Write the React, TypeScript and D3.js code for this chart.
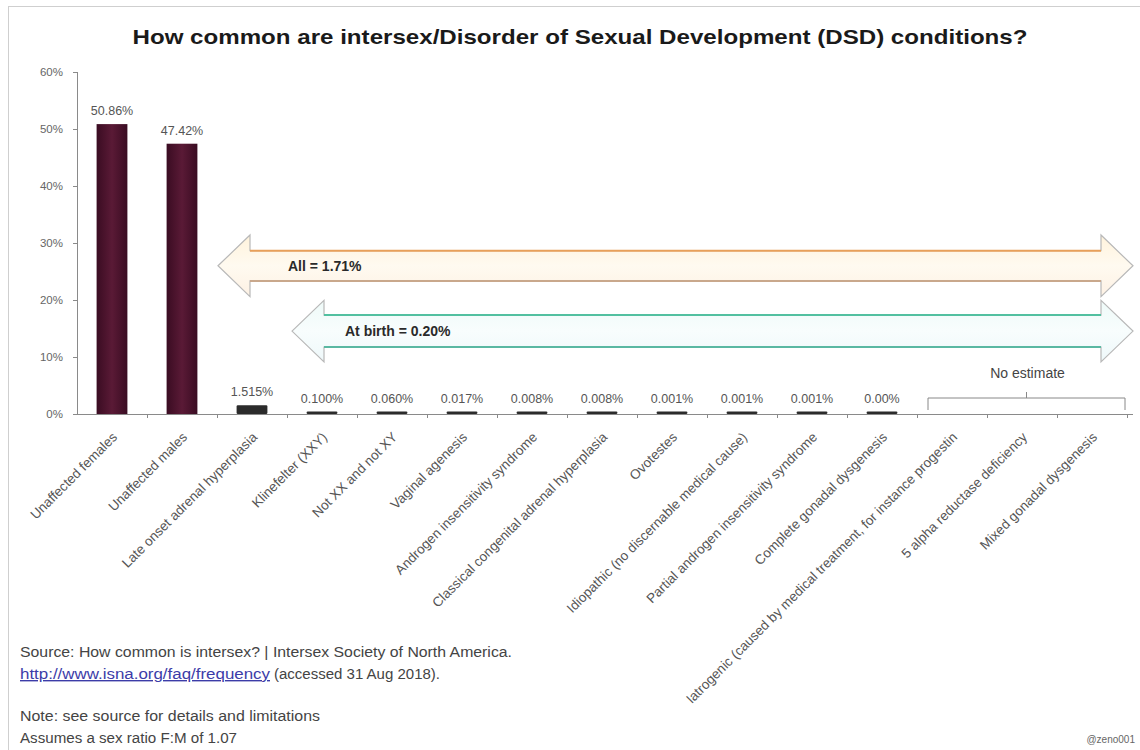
import React from "react";
import * as d3 from "d3";

const categories = [
  "Unaffected females",
  "Unaffected males",
  "Late onset adrenal hyperplasia",
  "Klinefelter (XXY)",
  "Not XX and not XY",
  "Vaginal agenesis",
  "Androgen insensitivity syndrome",
  "Classical congenital adrenal hyperplasia",
  "Ovotestes",
  "Idiopathic (no discernable medical cause)",
  "Partial androgen insensitivity syndrome",
  "Complete gonadal dysgenesis",
  "Iatrogenic (caused by medical treatment, for instance progestin",
  "5 alpha reductase deficiency",
  "Mixed gonadal dysgenesis",
];
const values: (number | null)[] = [
  50.86, 47.42, 1.515, 0.1, 0.06, 0.017, 0.008, 0.008, 0.001, 0.001, 0.001, 0.0004, null, null, null,
];
const valueLabels = [
  "50.86%", "47.42%", "1.515%", "0.100%", "0.060%", "0.017%", "0.008%", "0.008%",
  "0.001%", "0.001%", "0.001%", "0.00%", "", "", "",
];
const yTicks = [0, 10, 20, 30, 40, 50, 60];
const title = "How common are intersex/Disorder of Sexual Development (DSD) conditions?";
const arrows = [
  { label: "All = 1.71%", center: 26, half: 2.65, headHalf: 5.4, startCat: 2, startOffset: 1, kind: "orange" },
  { label: "At birth = 0.20%", center: 14.55, half: 2.8, headHalf: 5.4, startCat: 3, startOffset: 5, kind: "teal" },
];
const noEstimateCats = [12, 13, 14];
const footerLines = [
  "Source: How common is intersex? | Intersex Society of North America.",
  "Note: see source for details and limitations",
  "Assumes a sex ratio F:M of 1.07",
];
const linkText = "http://www.isna.org/faq/frequency";
const accessedText = "(accessed 31 Aug 2018).";
const credit = "@zeno001";

const W = 1140;
const H = 750;
const left = 77;
const right = 1127;
const y0 = 414;
const yTop = 72;
const FONT = "'Liberation Sans', Arial, sans-serif";

export default function App() {
  const x = d3.scaleBand<string>().domain(categories).range([left, right]).padding(0);
  const y = d3.scaleLinear().domain([0, 60]).range([y0, yTop]);
  const bw = x.bandwidth() * 0.44;

  const arrowPath = (a: typeof arrows[0]) => {
    const xs = (x(categories[a.startCat]) as number) + a.startOffset;
    const xe = right + 6;
    const head = 32;
    const yc = y(a.center);
    const yt = y(a.center + a.half);
    const yb = y(a.center - a.half);
    const ht = y(a.center + a.headHalf);
    const hb = y(a.center - a.headHalf);
    return {
      d: `M${xs},${yc} L${xs + head},${ht} L${xs + head},${yt} L${xe - head},${yt} L${xe - head},${ht} L${xe},${yc} L${xe - head},${hb} L${xe - head},${yb} L${xs + head},${yb} L${xs + head},${hb} Z`,
      xs, yc, head,
    };
  };

  const neStart = (x(categories[noEstimateCats[0]]) as number) + 11;
  const neEnd = (x(categories[noEstimateCats[noEstimateCats.length - 1]]) as number) + x.bandwidth() - 2;
  const neMid = (neStart + neEnd) / 2;

  return (
    <svg width={W} height={H} style={{ position: "absolute", left: 0, top: 0, background: "#fff" }} fontFamily={FONT}>
      <defs>
        <linearGradient id="barGrad" x1="0" x2="1" y1="0" y2="0">
          <stop offset="0" stopColor="#3a0c22" />
          <stop offset="0.5" stopColor="#5a1a36" />
          <stop offset="1" stopColor="#3a0c22" />
        </linearGradient>
        <linearGradient id="orangeFill" x1="0" x2="0" y1="0" y2="1">
          <stop offset="0" stopColor="#fff3dc" />
          <stop offset="0.5" stopColor="#fffaf0" />
          <stop offset="1" stopColor="#fdf1e4" />
        </linearGradient>
        <linearGradient id="tealFill" x1="0" x2="0" y1="0" y2="1">
          <stop offset="0" stopColor="#eefaf8" />
          <stop offset="0.5" stopColor="#f8fdfd" />
          <stop offset="1" stopColor="#eef8fa" />
        </linearGradient>
      </defs>
      <rect x={8.5} y={6.5} width={W} height={H} fill="#fff" stroke="#cfcfcf" />

      <text x={580} y={44} textAnchor="middle" fontSize={20.5} fontWeight="bold" fill="#1a1a1a" textLength={895} lengthAdjust="spacingAndGlyphs">
        {title}
      </text>

      {/* y axis */}
      <line x1={left + 0.5} x2={left + 0.5} y1={yTop} y2={y0} stroke="#8a8a8a" />
      {yTicks.map((t) => (
        <g key={t}>
          <line x1={left - 4} x2={left} y1={Math.round(y(t)) + 0.5} y2={Math.round(y(t)) + 0.5} stroke="#8a8a8a" />
          <text x={left - 14} y={y(t) + 4} textAnchor="end" fontSize={11.5} fill="#666">
            {t}%
          </text>
        </g>
      ))}

      {/* arrows */}
      {arrows.map((a) => {
        const p = arrowPath(a);
        const orange = a.kind === "orange";
        return (
          <g key={a.label}>
            <path d={p.d} fill={orange ? "url(#orangeFill)" : "url(#tealFill)"} stroke="#b8b8b8" strokeWidth={1.2} />
            <line x1={p.xs + p.head} x2={right + 6 - p.head} y1={y(a.center + a.half)} y2={y(a.center + a.half)} stroke={orange ? "#e8a05a" : "#52c0a0"} strokeWidth={2} />
            <line x1={p.xs + p.head} x2={right + 6 - p.head} y1={y(a.center - a.half)} y2={y(a.center - a.half)} stroke={orange ? "#c9a88c" : "#5ab8a2"} strokeWidth={2} />
            <text x={p.xs + (orange ? 70 : 53)} y={p.yc + 5} fontSize={14} fontWeight="bold" fill="#2a2a2a">
              {a.label}
            </text>
          </g>
        );
      })}

      {/* bars */}
      {categories.map((c, i) => {
        const v = values[i];
        if (v === null) return null;
        const cx = (x(c) as number) + x.bandwidth() / 2;
        const top = Math.min(y(v), y0 - 2.5);
        const big = v > 10;
        return (
          <g key={c}>
            <rect x={cx - bw / 2} y={top} width={bw} height={y0 - top} fill={big ? "url(#barGrad)" : "#2b2b2b"} rx={big ? 0 : 1.2} />
            <text x={cx} y={top - 9} textAnchor="middle" fontSize={12.5} fill="#555">
              {valueLabels[i]}
            </text>
          </g>
        );
      })}

      {/* x axis */}
      <line x1={left} x2={right + 6} y1={y0 + 0.5} y2={y0 + 0.5} stroke="#8a8a8a" />
      {categories.map((c, i) => (
        <line key={"t" + i} x1={(x(c) as number) + x.bandwidth() + 0.5} x2={(x(c) as number) + x.bandwidth() + 0.5} y1={y0} y2={y0 + 4} stroke="#8a8a8a" />
      ))}
      {categories.map((c) => {
        const cx = (x(c) as number) + x.bandwidth() / 2;
        return (
          <text key={"l" + c} transform={`translate(${cx + 6},${y0 + 24}) rotate(-45)`} textAnchor="end" fontSize={13.5} fill="#555">
            {c}
          </text>
        );
      })}

      {/* no estimate bracket */}
      <path d={`M${neStart},${y0 - 4} L${neStart},${y0 - 16} L${neEnd},${y0 - 16} L${neEnd},${y0 - 4} M${neMid},${y0 - 16} L${neMid},${y0 - 22}`} fill="none" stroke="#888" strokeWidth={1} />
      <text x={neMid + 1} y={y0 - 36} textAnchor="middle" fontSize={14} fill="#444">
        No estimate
      </text>

      {/* footer */}
      <text x={20} y={657} fontSize={14} fill="#444" textLength={492} lengthAdjust="spacingAndGlyphs">{footerLines[0]}</text>
      <text x={20} y={679} fontSize={14} fill="#3c3ca8" textDecoration="underline" textLength={250} lengthAdjust="spacingAndGlyphs">{linkText}</text>
      <text x={274} y={679} fontSize={14} fill="#444" textLength={166} lengthAdjust="spacingAndGlyphs">{accessedText}</text>
      <text x={20} y={721} fontSize={14} fill="#444" textLength={300} lengthAdjust="spacingAndGlyphs">{footerLines[1]}</text>
      <text x={20} y={743} fontSize={14} fill="#444" textLength={217} lengthAdjust="spacingAndGlyphs">{footerLines[2]}</text>
      <text x={1135} y={743} textAnchor="end" fontSize={10} fill="#666">{credit}</text>
    </svg>
  );
}
